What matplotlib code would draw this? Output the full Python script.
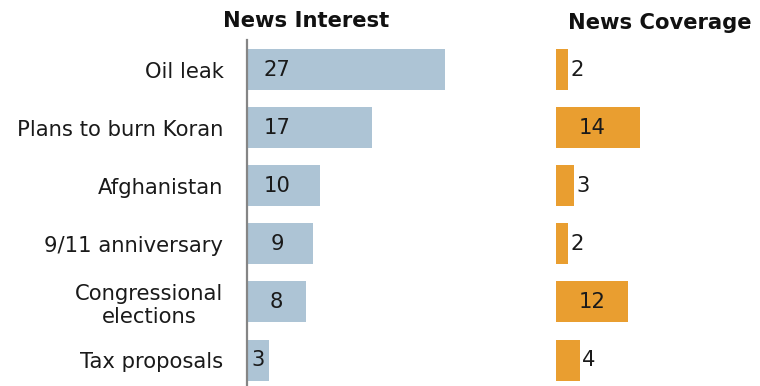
import matplotlib
matplotlib.use("Agg")
import matplotlib.pyplot as plt

categories = ["Oil leak", "Plans to burn Koran", "Afghanistan", "9/11 anniversary",
              "Congressional\nelections", "Tax proposals"]
interest = [27, 17, 10, 9, 8, 3]
coverage = [2, 14, 3, 2, 12, 4]

BLUE = "#ADC4D5"
ORANGE = "#E99E30"
FS = 15.2

W, H = 760, 386
fig = plt.figure(figsize=(W / 100, H / 100), dpi=100)

ytop_px, ybot_px = 40, 386
axh = (ybot_px - ytop_px) / H
ax1 = fig.add_axes([247 / W, 0, 220 / W, axh])
ax2 = fig.add_axes([556 / W, 0, 180 / W, axh])

ypos = list(range(len(categories)))
for ax in (ax1, ax2):
    ax.set_xlim(0, 30)
    ax.set_ylim(5 + 0.447, -0.508)
    for s in ax.spines.values():
        s.set_visible(False)
    ax.set_xticks([])
    ax.tick_params(left=False)

ax1.barh(ypos, interest, height=0.705, color=BLUE)
ax1.spines["left"].set_visible(True)
ax1.spines["left"].set_color("#858585")
ax1.spines["left"].set_linewidth(1.6)
ax1.set_yticks(ypos)
ax1.set_yticklabels(categories, fontsize=FS, color="#1a1a1a", ha="right", multialignment="center")
ax1.tick_params(axis="y", pad=13.5)
for y, v in zip(ypos, interest):
    ax1.text(min(v / 2, 4.1), y, str(v), ha="center", va="center", fontsize=FS, color="#1a1a1a")

ax2.barh(ypos, coverage, height=0.705, color=ORANGE)
ax2.set_yticks([])
for y, v in zip(ypos, coverage):
    if v <= 4:
        ax2.text(v + 0.4, y, str(v), ha="left", va="center", fontsize=FS, color="#1a1a1a")
    else:
        ax2.text(min(v / 2, 6.1), y, str(v), ha="center", va="center", fontsize=FS, color="#1a1a1a")

fig.text(306 / W, 1 - 21 / H, "News Interest", ha="center", va="center",
         fontsize=FS, fontweight="bold", color="#111111")
fig.text(660 / W, 1 - 23 / H, "News Coverage", ha="center", va="center",
         fontsize=FS, fontweight="bold", color="#111111")

fig.savefig("out.png", dpi=100)
